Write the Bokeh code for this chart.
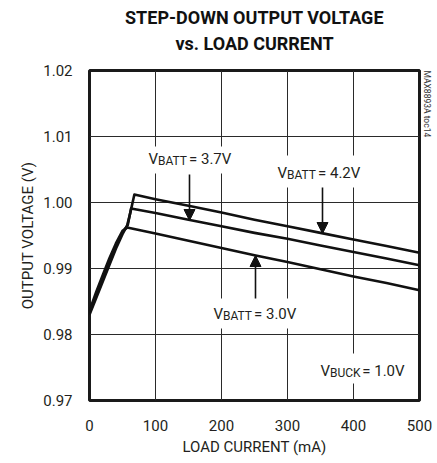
from bokeh.plotting import figure
from bokeh.models import Label, Arrow, NormalHead, BoxAnnotation, Range1d, FixedTicker, Title
from bokeh.embed import file_html
from bokeh.resources import INLINE

# ---- data ----
load_42 = [0, 10, 20, 30, 40, 50, 57, 62, 68, 100, 150, 200, 250, 300, 350, 400, 450, 500]
vout_42 = [0.9830, 0.9855, 0.9880, 0.9905, 0.9930, 0.9952, 0.9965, 0.9985, 1.0012,
           1.0005, 0.9995, 0.9985, 0.9974, 0.9964, 0.9954, 0.9944, 0.9934, 0.9924]
load_37 = [0, 10, 20, 30, 40, 50, 58, 63, 100, 150, 200, 250, 300, 350, 400, 450, 500]
vout_37 = [0.9833, 0.9860, 0.9886, 0.9910, 0.9934, 0.9955, 0.9966, 0.9991,
           0.9984, 0.9974, 0.9964, 0.9954, 0.9945, 0.9935, 0.9925, 0.9915, 0.9905]
load_30 = [0, 10, 20, 30, 40, 50, 57, 100, 150, 200, 250, 300, 350, 400, 450, 500]
vout_30 = [0.9836, 0.9864, 0.9890, 0.9915, 0.9938, 0.9957, 0.9962,
           0.9953, 0.9942, 0.9931, 0.9920, 0.9910, 0.9899, 0.9888, 0.9878, 0.9867]

x_ticks = [0, 100, 200, 300, 400, 500]
y_ticks = [0.97, 0.98, 0.99, 1.00, 1.01, 1.02]
y_tick_labels = {0.97: "0.97", 0.98: "0.98", 0.99: "0.99", 1.00: "1.00", 1.01: "1.01", 1.02: "1.02"}

title_lines = ["STEP-DOWN OUTPUT VOLTAGE", "vs. LOAD CURRENT"]
x_title = "LOAD CURRENT (mA)"
y_title = "OUTPUT VOLTAGE (V)"
watermark = "MAX8893A toc14"

FONT = "Roboto"
TXT = "#231f20"

p = figure(width=437, height=463, output_backend="svg", toolbar_location=None,
           x_range=Range1d(0, 500), y_range=Range1d(0.97, 1.02),
           min_border_left=89, min_border_right=18, min_border_top=70, min_border_bottom=63)
p.background_fill_color = "white"
p.border_fill_color = "white"
p.outline_line_color = "#1a1a1a"
p.outline_line_width = 3
p.title.visible = False

for ax in (p.xaxis[0], p.yaxis[0]):
    ax.axis_line_color = None
    ax.major_tick_line_color = None
    ax.minor_tick_line_color = None
    ax.major_tick_out = 0
    ax.major_tick_in = 0
    ax.minor_tick_out = 0
    ax.minor_tick_in = 0
    ax.major_label_text_font = FONT
    ax.major_label_text_font_size = "15px"
    ax.major_label_text_color = TXT
    ax.axis_label_text_font = FONT
    ax.axis_label_text_font_size = "15px"
    ax.axis_label_text_font_style = "normal"
    ax.axis_label_text_color = TXT
p.xaxis.ticker = FixedTicker(ticks=x_ticks)
p.yaxis.ticker = FixedTicker(ticks=y_ticks)
p.yaxis.major_label_overrides = y_tick_labels
p.xaxis.major_label_standoff = 19
p.yaxis.major_label_standoff = 17
p.xaxis.axis_label = x_title
p.yaxis.axis_label = y_title
p.xaxis.axis_label_standoff = 4
p.yaxis.axis_label_standoff = 3

p.grid.grid_line_color = "#2a2a2a"
p.grid.grid_line_width = 1
p.xgrid.ticker = FixedTicker(ticks=x_ticks)
p.ygrid.ticker = FixedTicker(ticks=y_ticks)

# spacer between frame and titles, then the two title lines (inner line first)
p.add_layout(Title(text=" ", text_font=FONT, text_font_size="2px", standoff=10), "above")
p.add_layout(Title(text=title_lines[1], align="center", text_font=FONT, text_font_style="bold",
                   text_font_size="18px", text_color="#111111", standoff=6), "above")
p.add_layout(Title(text=title_lines[0], align="center", text_font=FONT, text_font_style="bold",
                   text_font_size="18px", text_color="#111111", standoff=0), "above")
p.add_layout(Title(text=watermark, align="left", text_font=FONT, text_font_style="normal",
                   text_font_size="8.5px", text_color="#333333", standoff=5), "right")

for xs, ys in ((load_42, vout_42), (load_37, vout_37), (load_30, vout_30)):
    p.line(xs, ys, line_color="#111111", line_width=2.6, line_join="round")

def px_to_x(px):
    return (px - 89) / 0.66

def py_to_y(py):
    return 0.97 + (400 - py) / 6600.0

F = 15.0
f = 12.0
WID = {"B": 0.621, "A": 0.653, "T": 0.611, "U": 0.647, "C": 0.652, "K": 0.68, "V": 0.637}

def sub_label(px, py, main, sub, rest, box):
    # box: (left, right, top, bottom) in pixels
    p.add_layout(BoxAnnotation(left=px_to_x(box[0]), right=px_to_x(box[1]),
                               top=py_to_y(box[2]), bottom=py_to_y(box[3]),
                               fill_color="white", fill_alpha=1.0, line_color=None))
    w_main = WID[main] * F
    w_sub = sum(WID[c] for c in sub) * f + 1
    p.add_layout(Label(x=px_to_x(px), y=py_to_y(py), text=main, text_font=FONT,
                       text_font_size=f"{F}px", text_color=TXT, text_baseline="middle"))
    p.add_layout(Label(x=px_to_x(px + w_main), y=py_to_y(py + 2.5), text=sub, text_font=FONT,
                       text_font_size=f"{f}px", text_color=TXT, text_baseline="middle"))
    p.add_layout(Label(x=px_to_x(px + w_main + w_sub), y=py_to_y(py), text=rest, text_font=FONT,
                       text_font_size=f"{F}px", text_color=TXT, text_baseline="middle"))

sub_label(148, 158, "V", "BATT", " = 3.7V", (145, 233, 146, 173))
sub_label(277, 172, "V", "BATT", " = 4.2V", (274, 365, 155, 187))
sub_label(213, 313, "V", "BATT", " = 3.0V", (210, 301, 298, 328))
sub_label(320, 370, "V", "BUCK", " = 1.0V", (317, 410, 353, 383))

for x0, y0, y1 in ((189, 174, 220), (322, 187, 233), (255, 298, 255)):
    p.add_layout(Arrow(x_start=px_to_x(x0), y_start=py_to_y(y0), x_end=px_to_x(x0), y_end=py_to_y(y1),
                       line_color="#111111", line_width=1.6,
                       end=NormalHead(size=11, fill_color="#111111", line_color="#111111")))

open("out.html", "w").write(file_html(p, INLINE))
